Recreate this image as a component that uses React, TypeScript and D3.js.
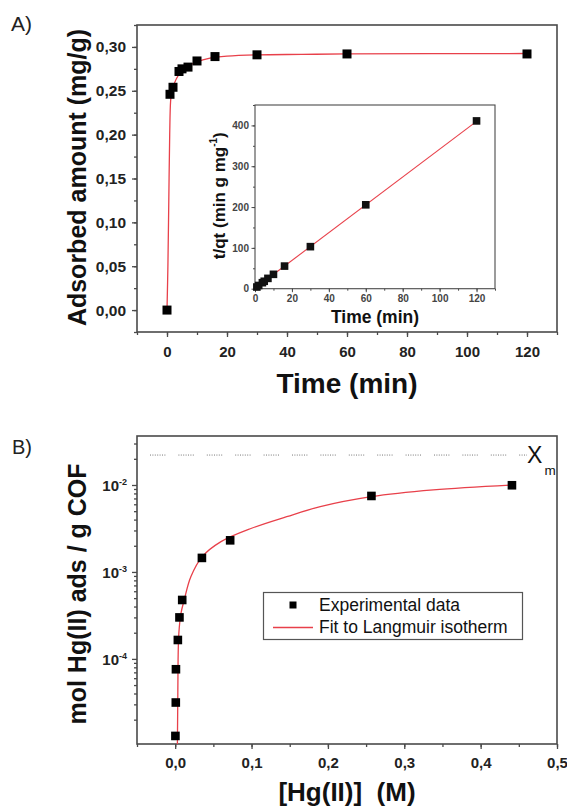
import React, { useRef, useEffect } from "react";
import * as d3 from "d3";

const W = 567;
const H = 807;
const FONT = "'Liberation Sans', Arial, Helvetica, sans-serif";
const RED = "#e8404a";
const FRAME = "#4a4a4a";

// ---- Panel A: adsorption kinetics ----
const timeMin = [0, 1, 2, 4, 5, 7, 10, 16, 30, 60, 120];
const adsorbed = [0, 0.246, 0.254, 0.272, 0.275, 0.277, 0.284, 0.289, 0.291, 0.292, 0.292];
// fitted curve
const fitTime = [0, 0.3, 0.6, 0.9, 1.2, 1.6, 2.5, 3.5, 5, 7, 10, 14, 20, 30, 45, 60, 120];
const fitAdsorbed = [0, 0.05, 0.125, 0.2, 0.238, 0.25, 0.259, 0.266, 0.273, 0.278, 0.283, 0.287, 0.2895, 0.291, 0.2915, 0.292, 0.2925];
const xTicksA = [0, 20, 40, 60, 80, 100, 120];
const yTicksA = [0, 0.05, 0.1, 0.15, 0.2, 0.25, 0.3];

// ---- Inset: pseudo-second-order plot t/qt ----
const insetTime = [1, 2, 4, 5, 7, 10, 16, 30, 60, 120];
const insetTq = [4.1, 7.9, 14.7, 18.2, 25.3, 35.2, 55.4, 103, 205.5, 411];
const insetFitTime = [0, 120];
const insetFitTq = [1, 410];
const xTicksI = [0, 20, 40, 60, 80, 100, 120];
const yTicksI = [0, 100, 200, 300, 400];

// ---- Panel B: Langmuir isotherm ----
const hgConc = [0.0003, 0.0008, 0.001, 0.0035, 0.0056, 0.0092, 0.035, 0.072, 0.257, 0.441];
const hgAds = [1.3e-5, 3.15e-5, 7.6e-5, 1.65e-4, 3.0e-4, 4.76e-4, 1.45e-3, 2.31e-3, 7.48e-3, 9.93e-3];
const fitConc = [0.0029, 0.0034, 0.0038, 0.0048, 0.0076, 0.0118, 0.0205, 0.0355, 0.06, 0.1, 0.146, 0.19, 0.257, 0.338, 0.441];
const fitAds = [1.05e-5, 3.4e-5, 9.7e-5, 1.97e-4, 3.35e-4, 4.76e-4, 8.8e-4, 1.5e-3, 2.23e-3, 3.18e-3, 4.32e-3, 5.64e-3, 7.34e-3, 8.77e-3, 1.0e-2];
const xTicksB = [0, 0.1, 0.2, 0.3, 0.4, 0.5];
const yTicksB = [1e-4, 1e-3, 1e-2];
const xmLevel = 0.0221;

const comma = (f: string) => (v: number) => d3.format(f)(v).replace(".", ",");

function styleAxis(sel: any, size: number, color: string, width = 1.3) {
  sel.select(".domain").remove();
  sel.selectAll("line").attr("stroke", FRAME).attr("stroke-width", width);
  sel
    .selectAll("text")
    .attr("font-family", FONT)
    .attr("font-weight", "bold")
    .attr("font-size", size)
    .attr("fill", color);
}

export default function App() {
  const ref = useRef<SVGSVGElement>(null);

  useEffect(() => {
    const svg = d3.select(ref.current);
    svg.selectAll("*").remove();
    svg.append("rect").attr("width", W).attr("height", H).attr("fill", "#fff");

    // ================= Panel A =================
    const xA = d3.scaleLinear().domain([-10, 130]).range([137, 557]);
    const yA = d3.scaleLinear().domain([-0.025, 0.325]).range([332, 25]);

    const axA = svg.append("g");
    const xMinorA = axA
      .append("g")
      .attr("transform", "translate(0,332)")
      .call(d3.axisBottom(xA).tickValues(d3.range(-10, 131, 10)).tickSize(3).tickFormat(() => ""));
    styleAxis(xMinorA, 15, "#222");
    const xMajA = axA
      .append("g")
      .attr("transform", "translate(0,332)")
      .call(d3.axisBottom(xA).tickValues(xTicksA).tickSize(5).tickPadding(9).tickFormat(d3.format("d")));
    styleAxis(xMajA, 15, "#222");

    const yMinorA = axA
      .append("g")
      .attr("transform", "translate(137,0)")
      .call(d3.axisLeft(yA).tickValues(d3.range(-0.025, 0.326, 0.025)).tickSize(3).tickFormat(() => ""));
    styleAxis(yMinorA, 15, "#222");
    const yMajA = axA
      .append("g")
      .attr("transform", "translate(137,0)")
      .call(d3.axisLeft(yA).tickValues(yTicksA).tickSize(5).tickPadding(6).tickFormat(comma(".2f")));
    styleAxis(yMajA, 15.5, "#222");

    svg
      .append("rect")
      .attr("x", 137)
      .attr("y", 25)
      .attr("width", 420)
      .attr("height", 307)
      .attr("fill", "none")
      .attr("stroke", FRAME)
      .attr("stroke-width", 1.6);

    const lineA = d3
      .line<number>()
      .x((_, i) => xA(fitTime[i]))
      .y((d) => yA(d))
      .curve(d3.curveCatmullRom.alpha(0.5));
    svg
      .append("path")
      .attr("d", lineA(fitAdsorbed))
      .attr("fill", "none")
      .attr("stroke", RED)
      .attr("stroke-width", 1.3);

    svg
      .append("g")
      .selectAll("rect")
      .data(adsorbed)
      .join("rect")
      .attr("x", (_, i) => xA(timeMin[i]) - 4.5)
      .attr("y", (d) => yA(d) - 4.5)
      .attr("width", 9)
      .attr("height", 9)
      .attr("fill", "#000");

    svg
      .append("text")
      .attr("x", 347)
      .attr("y", 393)
      .attr("text-anchor", "middle")
      .attr("font-family", FONT)
      .attr("font-weight", "bold")
      .attr("font-size", 28)
      .attr("fill", "#111")
      .text("Time (min)");

    svg
      .append("text")
      .attr("transform", "translate(86,177.5) rotate(-90)")
      .attr("text-anchor", "middle")
      .attr("font-family", FONT)
      .attr("font-weight", "bold")
      .attr("font-size", 25)
      .attr("fill", "#111")
      .text("Adsorbed amount (mg/g)");

    svg
      .append("text")
      .attr("x", 11)
      .attr("y", 31)
      .attr("font-family", FONT)
      .attr("font-size", 21)
      .attr("fill", "#222")
      .text("A)");

    // ================= Inset =================
    const xI = d3.scaleLinear().domain([0, 130]).range([255, 495]);
    const yI = d3.scaleLinear().domain([0, 450]).range([288.7, 105]);

    svg
      .append("rect")
      .attr("x", 255)
      .attr("y", 105)
      .attr("width", 240)
      .attr("height", 183.7)
      .attr("fill", "#fff")
      .attr("stroke", FRAME)
      .attr("stroke-width", 1.1);

    const xMinI = svg
      .append("g")
      .attr("transform", "translate(0,288.7)")
      .call(d3.axisBottom(xI).tickValues(d3.range(0, 131, 10)).tickSize(2).tickFormat(() => ""));
    styleAxis(xMinI, 10, "#444", 1);
    const xMajI = svg
      .append("g")
      .attr("transform", "translate(0,288.7)")
      .call(d3.axisBottom(xI).tickValues(xTicksI).tickSize(3.5).tickPadding(3).tickFormat(d3.format("d")));
    styleAxis(xMajI, 10, "#444", 1);
    const yMinI = svg
      .append("g")
      .attr("transform", "translate(255,0)")
      .call(d3.axisLeft(yI).tickValues(d3.range(0, 451, 50)).tickSize(2).tickFormat(() => ""));
    styleAxis(yMinI, 10, "#444", 1);
    const yMajI = svg
      .append("g")
      .attr("transform", "translate(255,0)")
      .call(d3.axisLeft(yI).tickValues(yTicksI).tickSize(3.5).tickPadding(2.5).tickFormat(d3.format("d")));
    styleAxis(yMajI, 10, "#444", 1);

    const lineI = d3
      .line<number>()
      .x((_, i) => xI(insetFitTime[i]))
      .y((d) => yI(d));
    svg
      .append("path")
      .attr("d", lineI(insetFitTq))
      .attr("fill", "none")
      .attr("stroke", RED)
      .attr("stroke-width", 1.1);

    svg
      .append("g")
      .selectAll("rect")
      .data(insetTq)
      .join("rect")
      .attr("x", (_, i) => xI(insetTime[i]) - 3.8)
      .attr("y", (d) => yI(d) - 3.8)
      .attr("width", 7.6)
      .attr("height", 7.6)
      .attr("fill", "#111");

    svg
      .append("text")
      .attr("x", 375)
      .attr("y", 323)
      .attr("text-anchor", "middle")
      .attr("font-family", FONT)
      .attr("font-weight", "bold")
      .attr("font-size", 17.5)
      .attr("fill", "#111")
      .text("Time (min)");

    const tq = svg
      .append("text")
      .attr("transform", "translate(225,195.7) rotate(-90)")
      .attr("text-anchor", "middle")
      .attr("font-family", FONT)
      .attr("font-weight", "bold")
      .attr("font-size", 17)
      .attr("fill", "#111");
    tq.append("tspan").text("t/qt (min g mg");
    tq.append("tspan").attr("dy", -8).attr("font-size", 10).text("-1");
    tq.append("tspan").attr("dy", 8).text(")");

    // ================= Panel B =================
    const xB = d3.scaleLinear().domain([-0.05, 0.5]).range([137, 557]);
    const yB = d3.scaleLog().domain([1.05e-5, 0.0366]).range([744, 436]);

    const xMinB = svg
      .append("g")
      .attr("transform", "translate(0,744)")
      .call(d3.axisBottom(xB).tickValues(d3.range(-0.05, 0.501, 0.05)).tickSize(3).tickFormat(() => ""));
    styleAxis(xMinB, 15, "#222");
    const xMajB = svg
      .append("g")
      .attr("transform", "translate(0,744)")
      .call(d3.axisBottom(xB).tickValues(xTicksB).tickSize(5).tickPadding(8.5).tickFormat(comma(".1f")));
    styleAxis(xMajB, 15, "#222");

    const minorLog = yB.ticks().filter((v) => !yTicksB.some((m) => Math.abs(v / m - 1) < 1e-6));
    const yMinB = svg
      .append("g")
      .attr("transform", "translate(137,0)")
      .call(d3.axisLeft(yB).tickValues(minorLog).tickSize(3).tickFormat(() => ""));
    styleAxis(yMinB, 15, "#222");
    const yMajB = svg
      .append("g")
      .attr("transform", "translate(137,0)")
      .call(d3.axisLeft(yB).tickValues(yTicksB).tickSize(5).tickFormat(() => ""));
    styleAxis(yMajB, 15, "#222");

    yTicksB.forEach((v) => {
      const t = svg
        .append("text")
        .attr("x", 127)
        .attr("y", yB(v) + 6)
        .attr("text-anchor", "end")
        .attr("font-family", FONT)
        .attr("font-weight", "bold")
        .attr("fill", "#222")
        .attr("font-size", 15);
      t.append("tspan").text("10");
      t.append("tspan")
        .attr("dy", -6)
        .attr("font-size", 9)
        .text(String(Math.round(Math.log10(v))));
    });

    svg
      .append("rect")
      .attr("x", 137)
      .attr("y", 436)
      .attr("width", 420)
      .attr("height", 308)
      .attr("fill", "none")
      .attr("stroke", FRAME)
      .attr("stroke-width", 1.6);

    // Xm dotted level
    const dot = "1 1.4 ".repeat(6) + "1 13";
    svg
      .append("line")
      .attr("x1", 150)
      .attr("x2", 527)
      .attr("y1", yB(xmLevel))
      .attr("y2", yB(xmLevel))
      .attr("stroke", "#777")
      .attr("stroke-width", 1)
      .attr("stroke-dasharray", dot);
    svg
      .append("text")
      .attr("x", 527)
      .attr("y", 463)
      .attr("font-family", FONT)
      .attr("font-size", 23)
      .attr("fill", "#111")
      .text("X");
    svg
      .append("text")
      .attr("x", 544.5)
      .attr("y", 475)
      .attr("font-family", FONT)
      .attr("font-size", 13.5)
      .attr("fill", "#111")
      .text("m");

    const lineB = d3
      .line<number>()
      .x((_, i) => xB(fitConc[i]))
      .y((d) => yB(d))
      .curve(d3.curveCatmullRom.alpha(0.5));
    svg
      .append("path")
      .attr("d", lineB(fitAds))
      .attr("fill", "none")
      .attr("stroke", RED)
      .attr("stroke-width", 1.3);

    svg
      .append("g")
      .selectAll("rect")
      .data(hgAds)
      .join("rect")
      .attr("x", (_, i) => xB(hgConc[i]) - 4.3)
      .attr("y", (d) => yB(d) - 4.3)
      .attr("width", 8.6)
      .attr("height", 8.6)
      .attr("fill", "#000");

    // legend
    const lg = svg.append("g");
    lg.append("rect")
      .attr("x", 263.5)
      .attr("y", 592.5)
      .attr("width", 259)
      .attr("height", 47)
      .attr("fill", "#fff")
      .attr("stroke", "#555")
      .attr("stroke-width", 1.2);
    lg.append("rect").attr("x", 289.5).attr("y", 601.5).attr("width", 7).attr("height", 7).attr("fill", "#000");
    lg.append("line")
      .attr("x1", 273)
      .attr("x2", 313)
      .attr("y1", 627.5)
      .attr("y2", 627.5)
      .attr("stroke", RED)
      .attr("stroke-width", 1.3);
    [
      ["Experimental data", 611],
      ["Fit to Langmuir isotherm", 633],
    ].forEach(([label, y]) => {
      lg.append("text")
        .attr("x", 319)
        .attr("y", y as number)
        .attr("font-family", FONT)
        .attr("font-size", 17.5)
        .attr("fill", "#111")
        .text(label as string);
    });

    svg
      .append("text")
      .attr("x", 347)
      .attr("y", 801)
      .attr("text-anchor", "middle")
      .attr("font-family", FONT)
      .attr("font-weight", "bold")
      .attr("font-size", 26)
      .attr("fill", "#111")
      .attr("xml:space", "preserve")
      .style("white-space", "pre")
      .text("[Hg(II)]  (M)");

    svg
      .append("text")
      .attr("transform", "translate(86,594) rotate(-90)")
      .attr("text-anchor", "middle")
      .attr("font-family", FONT)
      .attr("font-weight", "bold")
      .attr("font-size", 25)
      .attr("fill", "#111")
      .text("mol Hg(II) ads / g COF");

    svg
      .append("text")
      .attr("x", 12)
      .attr("y", 454)
      .attr("font-family", FONT)
      .attr("font-size", 20)
      .attr("fill", "#222")
      .text("B)");
  }, []);

  return (
    <svg
      ref={ref}
      width={W}
      height={H}
      style={{ position: "absolute", left: 0, top: 0, display: "block" }}
    />
  );
}
